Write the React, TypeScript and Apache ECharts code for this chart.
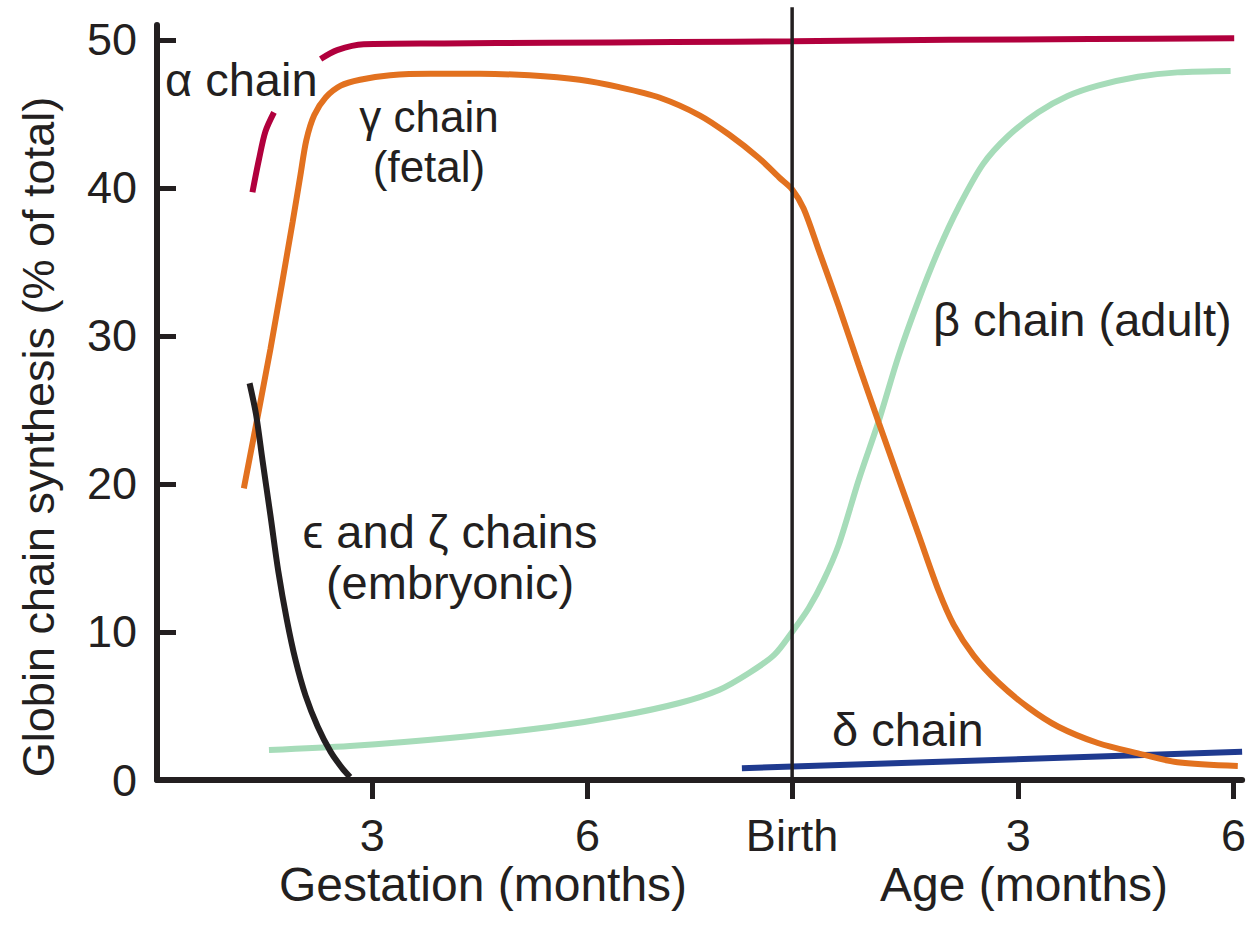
import React, { useEffect, useRef } from "react";
import * as echarts from "echarts";

// x: drawing coordinate in months from conception (birth drawn at 8.85)
const xTickValues = [3, 6, 8.85, 12, 15];
const xTickLabels = ["3", "6", "Birth", "3", "6"];
const birthX = 8.85;

const alphaChain: (number[] | string)[] = [
  [1.33, 39.7], [1.42, 41.9], [1.51, 43.8], [1.63, 45.1],
  "-",
  [2.28, 48.7], [2.51, 49.3], [2.88, 49.7], [4.0, 49.75], [5.47, 49.8], [7.2, 49.85], [8.85, 49.9],
  [11.03, 50.0], [13.0, 50.05], [15.01, 50.1],
];

const gammaChain = [
  [1.21, 19.7], [1.58, 29.1], [1.89, 37.7], [2.0, 40.9], [2.08, 43.2], [2.19, 44.9], [2.35, 46.1],
  [2.56, 46.9], [2.83, 47.3], [3.25, 47.6], [3.81, 47.7], [4.5, 47.7], [5.19, 47.6], [5.89, 47.3],
  [6.44, 46.8], [7.0, 46.1], [7.56, 44.9], [7.97, 43.6], [8.39, 42.0], [8.67, 40.7], [8.85, 39.9],
  [9.01, 38.6], [9.22, 35.8], [9.5, 32.0], [9.78, 28.0], [10.06, 24.1], [10.33, 20.4], [10.61, 16.6],
  [10.89, 12.8], [11.1, 10.5], [11.38, 8.4], [11.72, 6.6], [12.14, 4.9], [12.56, 3.6], [13.11, 2.5],
  [13.67, 1.8], [14.22, 1.2], [15.06, 0.95],
];

const betaChain = [
  [1.56, 2.03], [2.69, 2.3], [4.08, 2.84], [5.47, 3.58], [6.44, 4.32], [7.28, 5.2], [7.83, 6.08],
  [8.25, 7.23], [8.6, 8.45], [8.85, 10.0], [9.08, 11.6], [9.29, 13.5], [9.5, 15.9], [9.78, 20.3],
  [10.06, 24.3], [10.33, 28.6], [10.61, 32.4], [10.89, 35.8], [11.17, 38.7], [11.51, 41.6],
  [11.86, 43.5], [12.28, 45.1], [12.69, 46.2], [13.11, 46.9], [13.67, 47.5], [14.22, 47.8], [14.96, 47.9],
];

const embryonicChains = [
  [1.29, 26.8], [1.38, 24.7], [1.47, 21.6], [1.58, 17.9], [1.69, 14.1], [1.81, 10.8], [1.93, 8.1],
  [2.07, 5.7], [2.24, 3.6], [2.42, 1.9], [2.58, 0.8], [2.69, 0.2],
];

const deltaChain = [
  [8.15, 0.8], [15.12, 1.9],
];

const birthLine = [
  [birthX, 0], [birthX, 52.2],
];

const FONT = "'Liberation Sans', Arial, Helvetica, 'DejaVu Sans', sans-serif";
const INK = "#231f20";

export default function App() {
  const ref = useRef<HTMLDivElement>(null);

  useEffect(() => {
    if (!ref.current) return;
    const chart = echarts.init(ref.current, null, { renderer: "svg" });

    const lineSeries = (name: string, data: any, color: string, z: number, smooth: number | boolean = 0.3) => ({
      name,
      type: "line",
      data,
      smooth,
      showSymbol: false,
      symbol: "none",
      connectNulls: false,
      z,
      lineStyle: { color, width: 6, cap: "butt" },
      emphasis: { disabled: true },
    });

    const textStyle = (size: number, align: string = "left", lineHeight?: number) => ({
      fontFamily: FONT,
      fontSize: size,
      fill: INK,
      textAlign: align,
      textVerticalAlign: "middle",
      verticalAlign: "middle",
      ...(lineHeight ? { lineHeight } : {}),
    });

    chart.setOption({
      animation: false,
      backgroundColor: "#ffffff",
      grid: { left: 157, right: 4, top: 25, bottom: 157, containLabel: false },
      xAxis: {
        type: "value",
        min: 0,
        max: 15.12,
        splitLine: { show: false },
        axisLine: { show: true, onZero: false, lineStyle: { color: INK, width: 6 } },
        axisTick: {
          show: true,
          customValues: xTickValues,
          length: 19,
          lineStyle: { color: INK, width: 5 },
        },
        axisLabel: {
          customValues: xTickValues,
          margin: 33,
          fontSize: 45,
          fontFamily: FONT,
          color: INK,
          formatter: (v: number) => {
            const i = xTickValues.findIndex((t) => Math.abs(t - v) < 1e-6);
            return i >= 0 ? xTickLabels[i] : "";
          },
        },
      },
      yAxis: {
        type: "value",
        min: 0,
        max: 51,
        interval: 10,
        splitLine: { show: false },
        axisLine: { show: true, onZero: false, lineStyle: { color: INK, width: 6 } },
        axisTick: { show: true, inside: true, length: 19, lineStyle: { color: INK, width: 5 } },
        axisLabel: {
          margin: 20,
          fontSize: 45,
          fontFamily: FONT,
          color: INK,
          showMaxLabel: false,
        },
      },
      series: [
        lineSeries("β chain (adult)", betaChain, "#a6dcb9", 2),
        lineSeries("δ chain", deltaChain, "#1f3a8f", 3, false),
        lineSeries("γ chain (fetal)", gammaChain, "#e2711f", 4),
        lineSeries("α chain", alphaChain, "#b1003d", 5),
        lineSeries("ϵ and ζ chains (embryonic)", embryonicChains, INK, 6),
        {
          name: "Birth",
          type: "line",
          data: birthLine,
          clip: false,
          showSymbol: false,
          symbol: "none",
          z: 7,
          lineStyle: { color: INK, width: 3.5 },
          emphasis: { disabled: true },
        },
      ],
      graphic: [
        { type: "text", x: 38, y: 437, rotation: Math.PI / 2, style: { text: "Globin chain synthesis (% of total)", ...textStyle(45, "center") } },
        { type: "text", x: 483, y: 884, style: { text: "Gestation (months)", ...textStyle(48, "center") } },
        { type: "text", x: 1024, y: 884, style: { text: "Age (months)", ...textStyle(48, "center") } },
        { type: "text", x: 165, y: 79, style: { text: "α chain", ...textStyle(47) } },
        { type: "text", x: 429, y: 141, style: { text: "γ chain\n(fetal)", ...textStyle(44, "center", 50) } },
        { type: "text", x: 933, y: 319, style: { text: "β chain (adult)", ...textStyle(47) } },
        { type: "text", x: 450, y: 557, style: { text: "ϵ and ζ chains\n(embryonic)", ...textStyle(47, "center", 51) } },
        { type: "text", x: 832, y: 729, style: { text: "δ chain", ...textStyle(47) } },
      ],
    });

    return () => chart.dispose();
  }, []);

  return (
    <div
      ref={ref}
      style={{ position: "fixed", left: 0, top: 0, width: 1249, height: 937, background: "#fff" }}
    />
  );
}
